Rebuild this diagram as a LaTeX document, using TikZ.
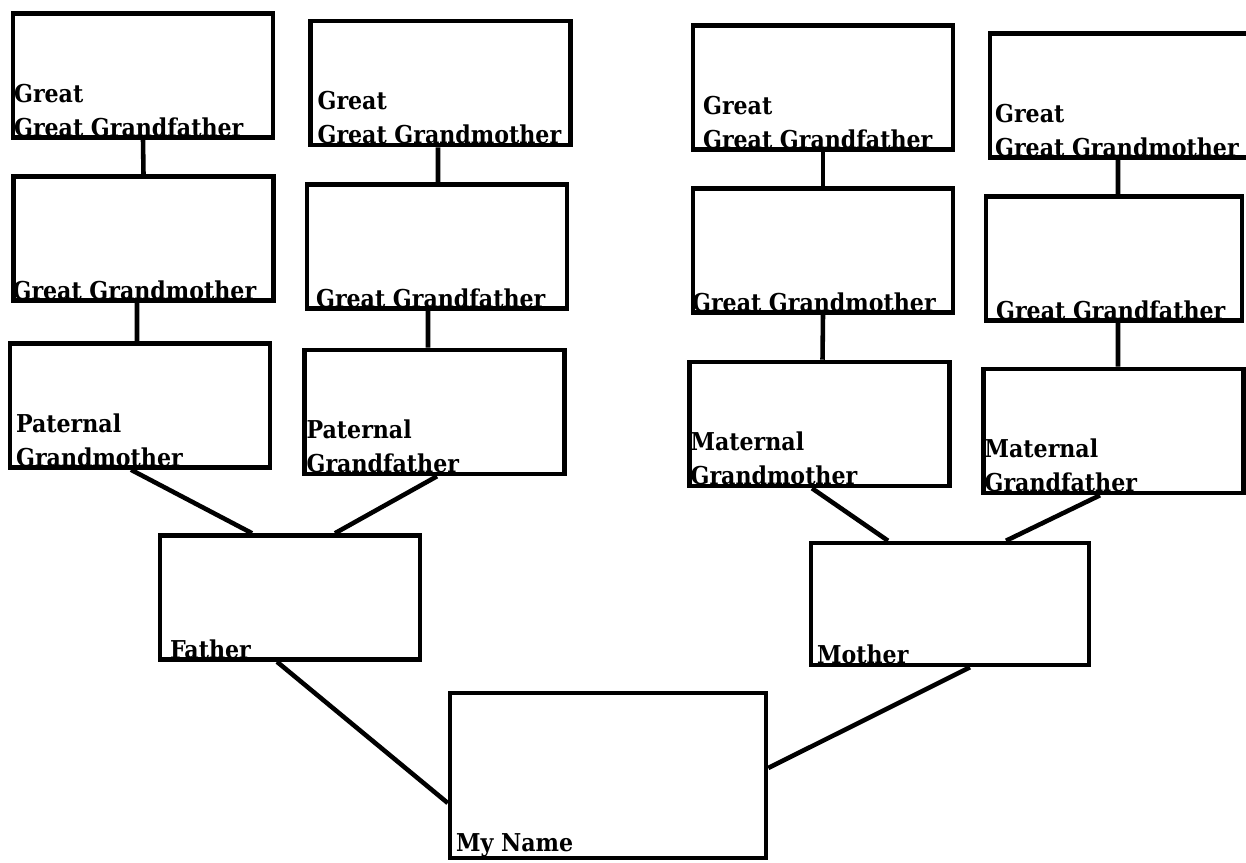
\documentclass[tikz,border=0pt]{standalone}
\usepackage{fontspec}
\setmainfont{DejaVu Serif Condensed}
\usetikzlibrary{positioning}

\begin{document}
\begin{tikzpicture}[
      x=0.02cm, y=-0.02cm,
      box/.style={draw, rectangle, line width=2.6pt, minimum width=5.2cm, minimum height=2.48cm, inner sep=0pt},
      lbl/.style={align=left, font=\fontsize{14}{19.5}\selectfont\bfseries, inner xsep=0pt, inner ysep=1.5pt},
      link/.style={line width=2.6pt}]
    \useasboundingbox (0,0) rectangle (1246,862);
    % great great grandparents
    \node[box] (gggf1) at (143,75.5) {};
    \node[box] (gggm1) at (440.5,83) {};
    \node[box] (gggf2) at (823,87.5) {};
    \node[box, minimum width=5.24cm] (gggm2) at (1121,95.5) {};
    % great grandparents
    \node[box] (ggm1) at (143.5,238.5) {};
    \node[box] (ggf1) at (437,246.5) {};
    \node[box] (ggm2) at (823,250.5) {};
    \node[box, minimum width=5.12cm] (ggf2) at (1114,258.5) {};
    % grandparents
    \node[box] (pgm) at (140,405.5) {};
    \node[box] (pgf) at (434.5,412) {};
    \node[box] (mgm) at (819.5,424) {};
    \node[box] (mgf) at (1113.5,431) {};
    % parents and me
    \node[box] (father) at (290,597.5) {};
    \node[box, minimum width=5.56cm, minimum height=2.44cm] (mother) at (950,604) {};
    \node[box, minimum width=6.32cm, minimum height=3.3cm] (me) at (608,775.5) {};

    \node[lbl, above right=0pt and 0.06cm of gggf1.south west] (gggf1-l) {Great\\Great Grandfather};
    \node[lbl, above right=0pt and 0.18cm of gggm1.south west] (gggm1-l) {Great\\Great Grandmother};
    \node[lbl, above right=0pt and 0.24cm of gggf2.south west] (gggf2-l) {Great\\Great Grandfather};
    \node[lbl, above right=0pt and 0.14cm of gggm2.south west] (gggm2-l) {Great\\Great Grandmother};
    \node[lbl, above right=0pt and 0.02cm of ggm1.south west] (ggm1-l) {Great Grandmother};
    \node[lbl, above right=0pt and 0.22cm of ggf1.south west] (ggf1-l) {Great Grandfather};
    \node[lbl, above right=0pt and 0.02cm of ggm2.south west] (ggm2-l) {Great Grandmother};
    \node[lbl, above right=0pt and 0.24cm of ggf2.south west] (ggf2-l) {Great Grandfather};
    \node[lbl, above right=0pt and 0.16cm of pgm.south west] (pgm-l) {Paternal\\Grandmother};
    \node[lbl, above right=0pt and 0.08cm of pgf.south west] (pgf-l) {Paternal\\Grandfather};
    \node[lbl, above right=0pt and 0.06cm of mgm.south west] (mgm-l) {Maternal\\Grandmother};
    \node[lbl, above right=0pt and 0.06cm of mgf.south west] (mgf-l) {Maternal\\Grandfather};
    \node[lbl, above right=0pt and 0.24cm of father.south west] (father-l) {Father};
    \node[lbl, above right=0pt and 0.16cm of mother.south west] (mother-l) {Mother};
    \node[lbl, above right=0pt and 0.16cm of me.south west] (me-l) {My Name};

    \draw[link] (gggf1.south) -- (ggm1.north);
    \draw[link] ([xshift=-0.05cm]gggm1.south) -- ([xshift=0.02cm]ggf1.north);
    \draw[link] (gggf2.south) -- (ggm2.north);
    \draw[link] ([xshift=-0.06cm]gggm2.south) -- ([xshift=0.08cm]ggf2.north);
    \draw[link] ([xshift=-0.13cm]ggm1.south) -- ([xshift=-0.06cm]pgm.north);
    \draw[link] ([xshift=-0.18cm]ggf1.south) -- ([xshift=-0.13cm]pgf.north);
    \draw[link] (ggm2.south) -- ([xshift=0.06cm]mgm.north);
    \draw[link] ([xshift=0.08cm]ggf2.south) -- ([xshift=0.09cm]mgf.north);
    \draw[link] ([xshift=-0.18cm]pgm.south) -- ([xshift=-0.76cm]father.north);
    \draw[link] ([xshift=0.05cm]pgf.south) -- ([xshift=0.9cm]father.north);
    \draw[link] ([xshift=-0.15cm]mgm.south) -- ([xshift=-1.24cm]mother.north);
    \draw[link] ([xshift=-0.27cm]mgf.south) -- ([xshift=1.12cm]mother.north);
    \draw[link] ([xshift=-0.26cm]father.south) -- ([yshift=-0.55cm]me.west);
    \draw[link] ([xshift=0.4cm]mother.south) -- ([yshift=0.15cm]me.east);
  \end{tikzpicture}
\end{document}
